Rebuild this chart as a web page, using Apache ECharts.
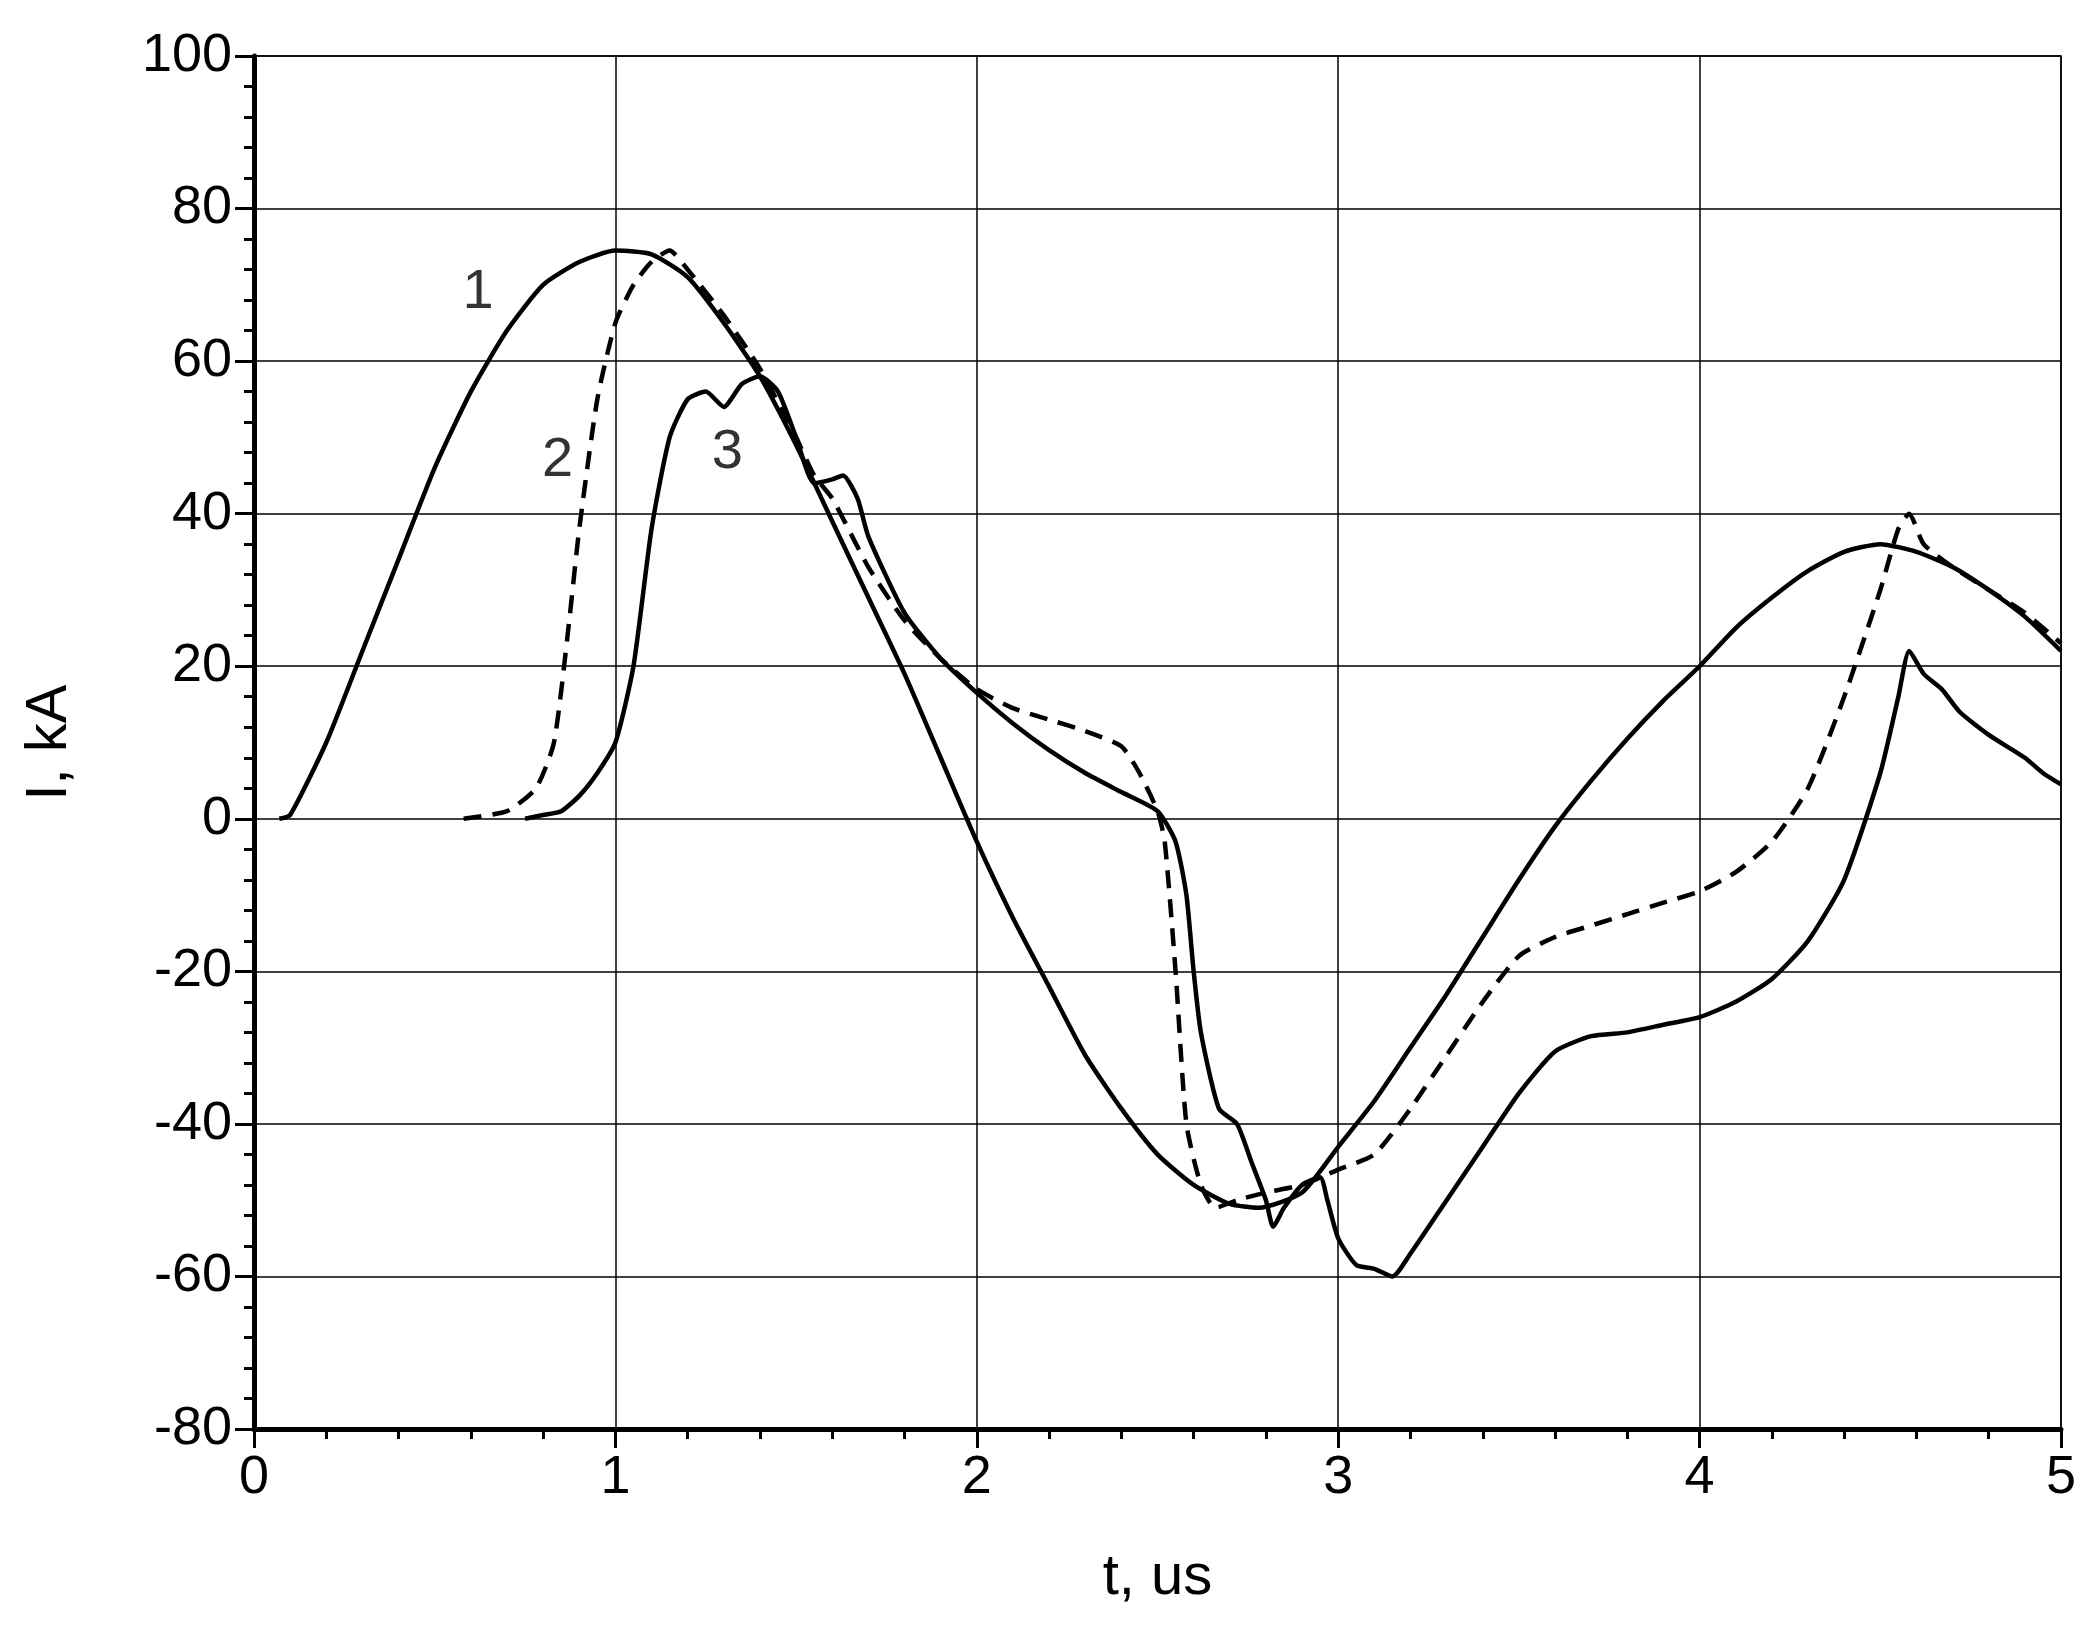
<!DOCTYPE html><html><head><meta charset="utf-8">
<script src="https://cdn.jsdelivr.net/npm/echarts@6/dist/echarts.min.js"></script>
<style>html,body{margin:0;background:#fff}#c{width:2095px;height:1641px}</style></head><body><div id="c"></div>
<script>
const xTicks=[0,1,2,3,4,5];
const yTicks=[-80,-60,-40,-20,0,20,40,60,80,100];
const curve1=[[0.07,0],[0.1,0.5],[0.2,10],[0.3,22],[0.4,34],[0.5,46],[0.6,56],[0.7,64],[0.8,70],[0.9,73],[1.0,74.5],[1.1,74],[1.2,71],[1.3,65],[1.4,58],[1.5,49],[1.6,39],[1.7,29],[1.8,19],[1.9,8],[2.0,-3],[2.1,-13],[2.2,-22],[2.3,-31],[2.4,-38],[2.5,-44],[2.6,-48],[2.7,-50.5],[2.78,-51],[2.9,-49],[3.0,-43],[3.1,-37],[3.2,-30],[3.3,-23],[3.4,-15.5],[3.5,-8],[3.6,-1],[3.7,5],[3.8,10.5],[3.9,15.5],[4.0,20],[4.1,25],[4.2,29],[4.3,32.5],[4.4,35],[4.5,36],[4.6,35],[4.7,33],[4.8,30],[4.9,26.5],[5.0,22]];
const curve2=[[0.58,0],[0.7,1],[0.78,4],[0.83,10],[0.87,25],[0.9,38],[0.95,55],[1.0,65],[1.05,70],[1.1,73],[1.15,74.5],[1.2,72],[1.3,66],[1.4,59],[1.5,50],[1.55,45],[1.6,42],[1.7,33],[1.8,26],[1.9,21],[2.0,17],[2.1,14.5],[2.2,13],[2.3,11.5],[2.4,9.5],[2.45,6],[2.5,1],[2.52,-3],[2.55,-20],[2.58,-40],[2.62,-48],[2.66,-51],[2.72,-50],[2.8,-49],[2.9,-48],[3.0,-46],[3.1,-44],[3.2,-38],[3.3,-31],[3.4,-24],[3.5,-18],[3.6,-15.5],[3.7,-14],[3.8,-12.5],[3.9,-11],[4.0,-9.5],[4.1,-7],[4.2,-3],[4.3,4],[4.4,16],[4.5,30],[4.55,38],[4.58,40],[4.62,36],[4.7,33],[4.8,30],[4.9,27],[5.0,23]];
const curve3=[[0.75,0],[0.8,0.5],[0.85,1],[0.9,3],[0.95,6],[1.0,10],[1.05,20],[1.1,38],[1.15,50],[1.2,55],[1.25,56],[1.3,54],[1.35,57],[1.4,58],[1.45,56],[1.5,50],[1.55,44],[1.6,44.5],[1.63,45],[1.67,42],[1.7,37],[1.8,27],[1.9,21],[2.0,16.5],[2.1,12.5],[2.2,9],[2.3,6],[2.4,3.5],[2.5,1],[2.55,-3],[2.58,-10],[2.6,-20],[2.62,-28],[2.67,-38],[2.72,-40],[2.76,-45],[2.8,-50],[2.82,-53.5],[2.85,-51],[2.9,-48],[2.95,-47],[2.97,-50],[3.0,-55],[3.05,-58.5],[3.1,-59],[3.15,-60],[3.2,-57],[3.3,-50],[3.4,-43],[3.5,-36],[3.6,-30.5],[3.7,-28.5],[3.8,-28],[3.9,-27],[4.0,-26],[4.1,-24],[4.2,-21],[4.3,-16],[4.4,-8],[4.5,6],[4.55,16],[4.58,22],[4.62,19],[4.67,17],[4.72,14],[4.8,11],[4.9,8],[4.95,6],[5.0,4.5]];
const labels=[["1",0.62,69],["2",0.84,47],["3",1.31,48]];
const ch=echarts.init(document.getElementById('c'));
const font='Liberation Sans';
const ln=(d,type)=>({type:'line',data:d,showSymbol:false,smooth:0.2,lineStyle:{color:'#000',width:4.5,type:type},z:3});
const ax=(o)=>Object.assign({type:'value',nameLocation:'middle',
 nameTextStyle:{fontFamily:font,fontSize:58,color:'#000'},
 axisLine:{onZero:false,lineStyle:{color:'#000',width:5}},axisTick:{length:19,lineStyle:{width:3,color:'#000'}},
 minorTick:{show:true,splitNumber:5,length:10,lineStyle:{width:3,color:'#000'}},
 axisLabel:{fontFamily:font,fontSize:54,color:'#000',margin:22},
 splitLine:{show:true,lineStyle:{color:'#000',width:1.5}}},o);
ch.setOption({animation:false,
grid:{left:254,right:34,top:56,bottom:212,show:true,borderColor:'#000',borderWidth:1.5},
xAxis:ax({min:0,max:5,interval:1,name:'t, us',nameGap:120}),
yAxis:ax({min:-80,max:100,interval:20,name:'I, kA',nameGap:175}),
series:[ln(curve1,'solid'),ln(curve2,[18,11]),ln(curve3,'solid'),
 {type:'scatter',data:labels.map(l=>[l[1],l[2],l[0]]),symbolSize:0,
  label:{show:true,formatter:p=>p.data[2],position:'inside',fontFamily:font,fontSize:56,color:'#000'}}]
});
</script></body></html>
